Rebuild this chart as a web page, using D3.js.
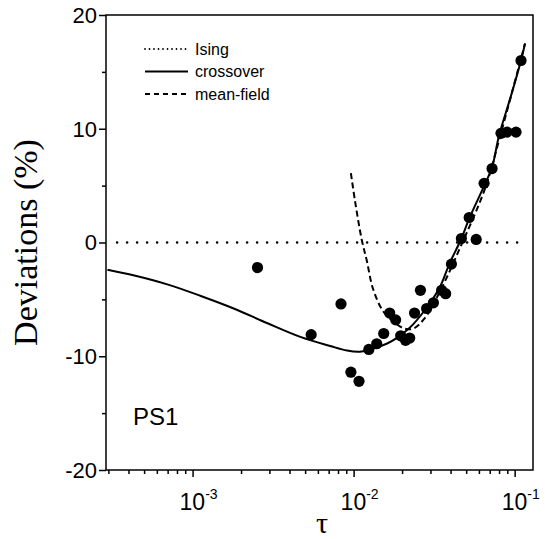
<!DOCTYPE html>
<html>
<head>
<meta charset="utf-8">
<script src="https://cdn.jsdelivr.net/npm/d3@7"></script>
<style>
    body { margin: 0; background: #fff; }
    svg { display: block; }
</style>
</head>
<body>
<div id="chart"></div>
<script>
// measured points (tau, deviation in %)
const pointTau = [0.00253, 0.00545, 0.00835, 0.00962, 0.0108, 0.01243, 0.01392, 0.01538, 0.01675, 0.01824,
    0.0196, 0.0210, 0.0223, 0.0239, 0.0260, 0.0284, 0.0313, 0.0352, 0.0373, 0.0405,
    0.0467, 0.0522, 0.0577, 0.0646, 0.0724, 0.0823, 0.0897, 0.102, 0.1095]
const pointDev = [-2.2, -8.1, -5.4, -11.4, -12.2, -9.4, -8.9, -8.0, -6.2, -6.8,
    -8.2, -8.6, -8.4, -6.2, -4.2, -5.8, -5.3, -4.2, -4.5, -1.9,
    0.35, 2.2, 0.27, 5.2, 6.5, 9.6, 9.7, 9.7, 16.0]

// crossover curve
const crossTau = [2.96e-4, 4.35e-4, 7.05e-4, 1.125e-3, 1.8e-3, 2.92e-3, 4.67e-3, 7.15e-3, 9.1e-3, 0.01094,
    0.0126, 0.01603, 0.0185, 0.0223, 0.0275, 0.0341, 0.0394, 0.0467, 0.0522, 0.0657,
    0.0724, 0.080, 0.0945, 0.1095, 0.116]
const crossDev = [-2.4, -2.9, -3.7, -4.7, -5.8, -7.1, -8.3, -9.1, -9.5, -9.6,
    -9.4, -8.9, -8.4, -7.5, -6.0, -4.0, -1.85, 0.35, 2.1, 5.2,
    6.6, 9.4, 12.8, 16.0, 17.5]

// mean-field curve
const mfTau = [0.00962, 0.01019, 0.01125, 0.01208, 0.01315, 0.01517, 0.0175, 0.02015, 0.0232, 0.0275,
    0.0341, 0.0467, 0.0657, 0.080, 0.116]
const mfDev = [6.1, 3.7, 0.2, -1.6, -4.0, -6.0, -6.9, -7.5, -7.6, -6.7,
    -4.4, -0.2, 4.8, 9.0, 17.5]

// Ising line
const isingTau = [3.4e-4, 0.104]
const isingDev = [0, 0]

const xDomain = [2.9e-4, 0.13]
const yDomain = [-20, 20]
const xMajor = [1e-3, 1e-2, 1e-1]
const xExponents = ["-3", "-2", "-1"]
const yMajor = [-20, -10, 0, 10, 20]
const yMinor = [-15, -5, 5, 15]
const legendLabels = ["Ising", "crossover", "mean-field"]
const legendDash = ["0,4.5", null, "5,4"]

const width = 548
const height = 539
const margin = {left: 106, right: 15, top: 15, bottom: 69}

const sans = "Arial, 'Liberation Sans', Helvetica, sans-serif"
const serif = "'Times New Roman', 'Liberation Serif', serif"

const x = d3.scaleLog()
    .domain(xDomain)
    .range([margin.left, width - margin.right])

const y = d3.scaleLinear()
    .domain(yDomain)
    .range([height - margin.bottom, margin.top])

const svg = d3.select("#chart").append("svg")
    .attr("width", width)
    .attr("height", height)

// minor ticks 2..9 of each decade
const xMinor = []
for (let e = -4; e <= -1; e++) {
    for (let m = 2; m <= 9; m++) {
        const v = m * Math.pow(10, e)
        if (v >= xDomain[0] && v <= xDomain[1]) xMinor.push(v)
    }
}

const bottom = height - margin.bottom

function tickGroup(axis, transform) {
    svg.append("g")
        .attr("transform", transform)
        .call(axis)
        .call(g => g.select(".domain").remove())
        .selectAll("line").attr("stroke-width", 1.5)
}

tickGroup(d3.axisBottom(x).tickValues(xMinor).tickSize(4).tickFormat(""), `translate(0,${bottom})`)
tickGroup(d3.axisBottom(x).tickValues(xMajor).tickSize(7).tickFormat(""), `translate(0,${bottom})`)
tickGroup(d3.axisLeft(y).tickValues(yMinor).tickSize(4).tickFormat(""), `translate(${margin.left},0)`)
tickGroup(d3.axisLeft(y).tickValues(yMajor).tickSize(7).tickFormat(""), `translate(${margin.left},0)`)

// y tick labels
svg.append("g")
    .selectAll("text")
    .data(yMajor)
    .join("text")
    .attr("x", margin.left - 9)
    .attr("y", d => y(d))
    .attr("dy", "0.36em")
    .attr("text-anchor", "end")
    .attr("font-family", sans)
    .attr("font-size", 22)
    .text(d => d)

// x tick labels: 10 with superscript exponent
const xl = svg.append("g")
    .selectAll("text")
    .data(xMajor)
    .join("text")
    .attr("x", d => x(d) - 13)
    .attr("y", bottom + 40)
    .attr("font-family", sans)
    .attr("font-size", 23)

xl.append("tspan").text("10")
xl.append("tspan")
    .attr("font-size", 14)
    .attr("dy", -11)
    .text((d, i) => xExponents[i])

// frame
svg.append("rect")
    .attr("x", margin.left)
    .attr("y", margin.top)
    .attr("width", width - margin.left - margin.right)
    .attr("height", bottom - margin.top)
    .attr("fill", "none")
    .attr("stroke", "#000")
    .attr("stroke-width", 1.5)

const line = d3.line()
    .x(d => x(d[0]))
    .y(d => y(d[1]))
    .curve(d3.curveCatmullRom.alpha(0.5))

svg.append("path")
    .datum(d3.zip(isingTau, isingDev))
    .attr("d", line)
    .attr("fill", "none")
    .attr("stroke", "#000")
    .attr("stroke-width", 2.6)
    .attr("stroke-linecap", "round")
    .attr("stroke-dasharray", "0,10")

svg.append("path")
    .datum(d3.zip(mfTau, mfDev))
    .attr("d", line)
    .attr("fill", "none")
    .attr("stroke", "#000")
    .attr("stroke-width", 2)
    .attr("stroke-dasharray", "6,3.5")

svg.append("path")
    .datum(d3.zip(crossTau, crossDev))
    .attr("d", line)
    .attr("fill", "none")
    .attr("stroke", "#000")
    .attr("stroke-width", 2)

svg.append("g")
    .selectAll("circle")
    .data(d3.zip(pointTau, pointDev))
    .join("circle")
    .attr("cx", d => x(d[0]))
    .attr("cy", d => y(d[1]))
    .attr("r", 5.6)
    .attr("fill", "#000")

// legend
const lg = svg.append("g")
    .selectAll("g")
    .data(legendLabels)
    .join("g")
    .attr("transform", (d, i) => `translate(145,${49 + i * 22.5})`)

lg.append("line")
    .attr("x1", 0)
    .attr("x2", 43)
    .attr("stroke", "#000")
    .attr("stroke-width", (d, i) => i == 0 ? 1.8 : 2)
    .attr("stroke-linecap", (d, i) => i == 0 ? "round" : "butt")
    .attr("stroke-dasharray", (d, i) => legendDash[i])

lg.append("text")
    .attr("x", 50)
    .attr("dy", "0.36em")
    .attr("font-family", sans)
    .attr("font-size", 16)
    .text(d => d)

svg.append("text")
    .attr("x", 133)
    .attr("y", 425)
    .attr("font-family", sans)
    .attr("font-size", 24)
    .text("PS1")

// axis titles
svg.append("text")
    .attr("transform", `translate(37,${(margin.top + bottom) / 2}) rotate(-90)`)
    .attr("text-anchor", "middle")
    .attr("font-family", serif)
    .attr("font-size", 34)
    .text("Deviations (%)")

svg.append("text")
    .attr("x", 322)
    .attr("y", 533)
    .attr("text-anchor", "middle")
    .attr("font-family", serif)
    .attr("font-size", 30)
    .text("τ")
</script>
</body>
</html>
